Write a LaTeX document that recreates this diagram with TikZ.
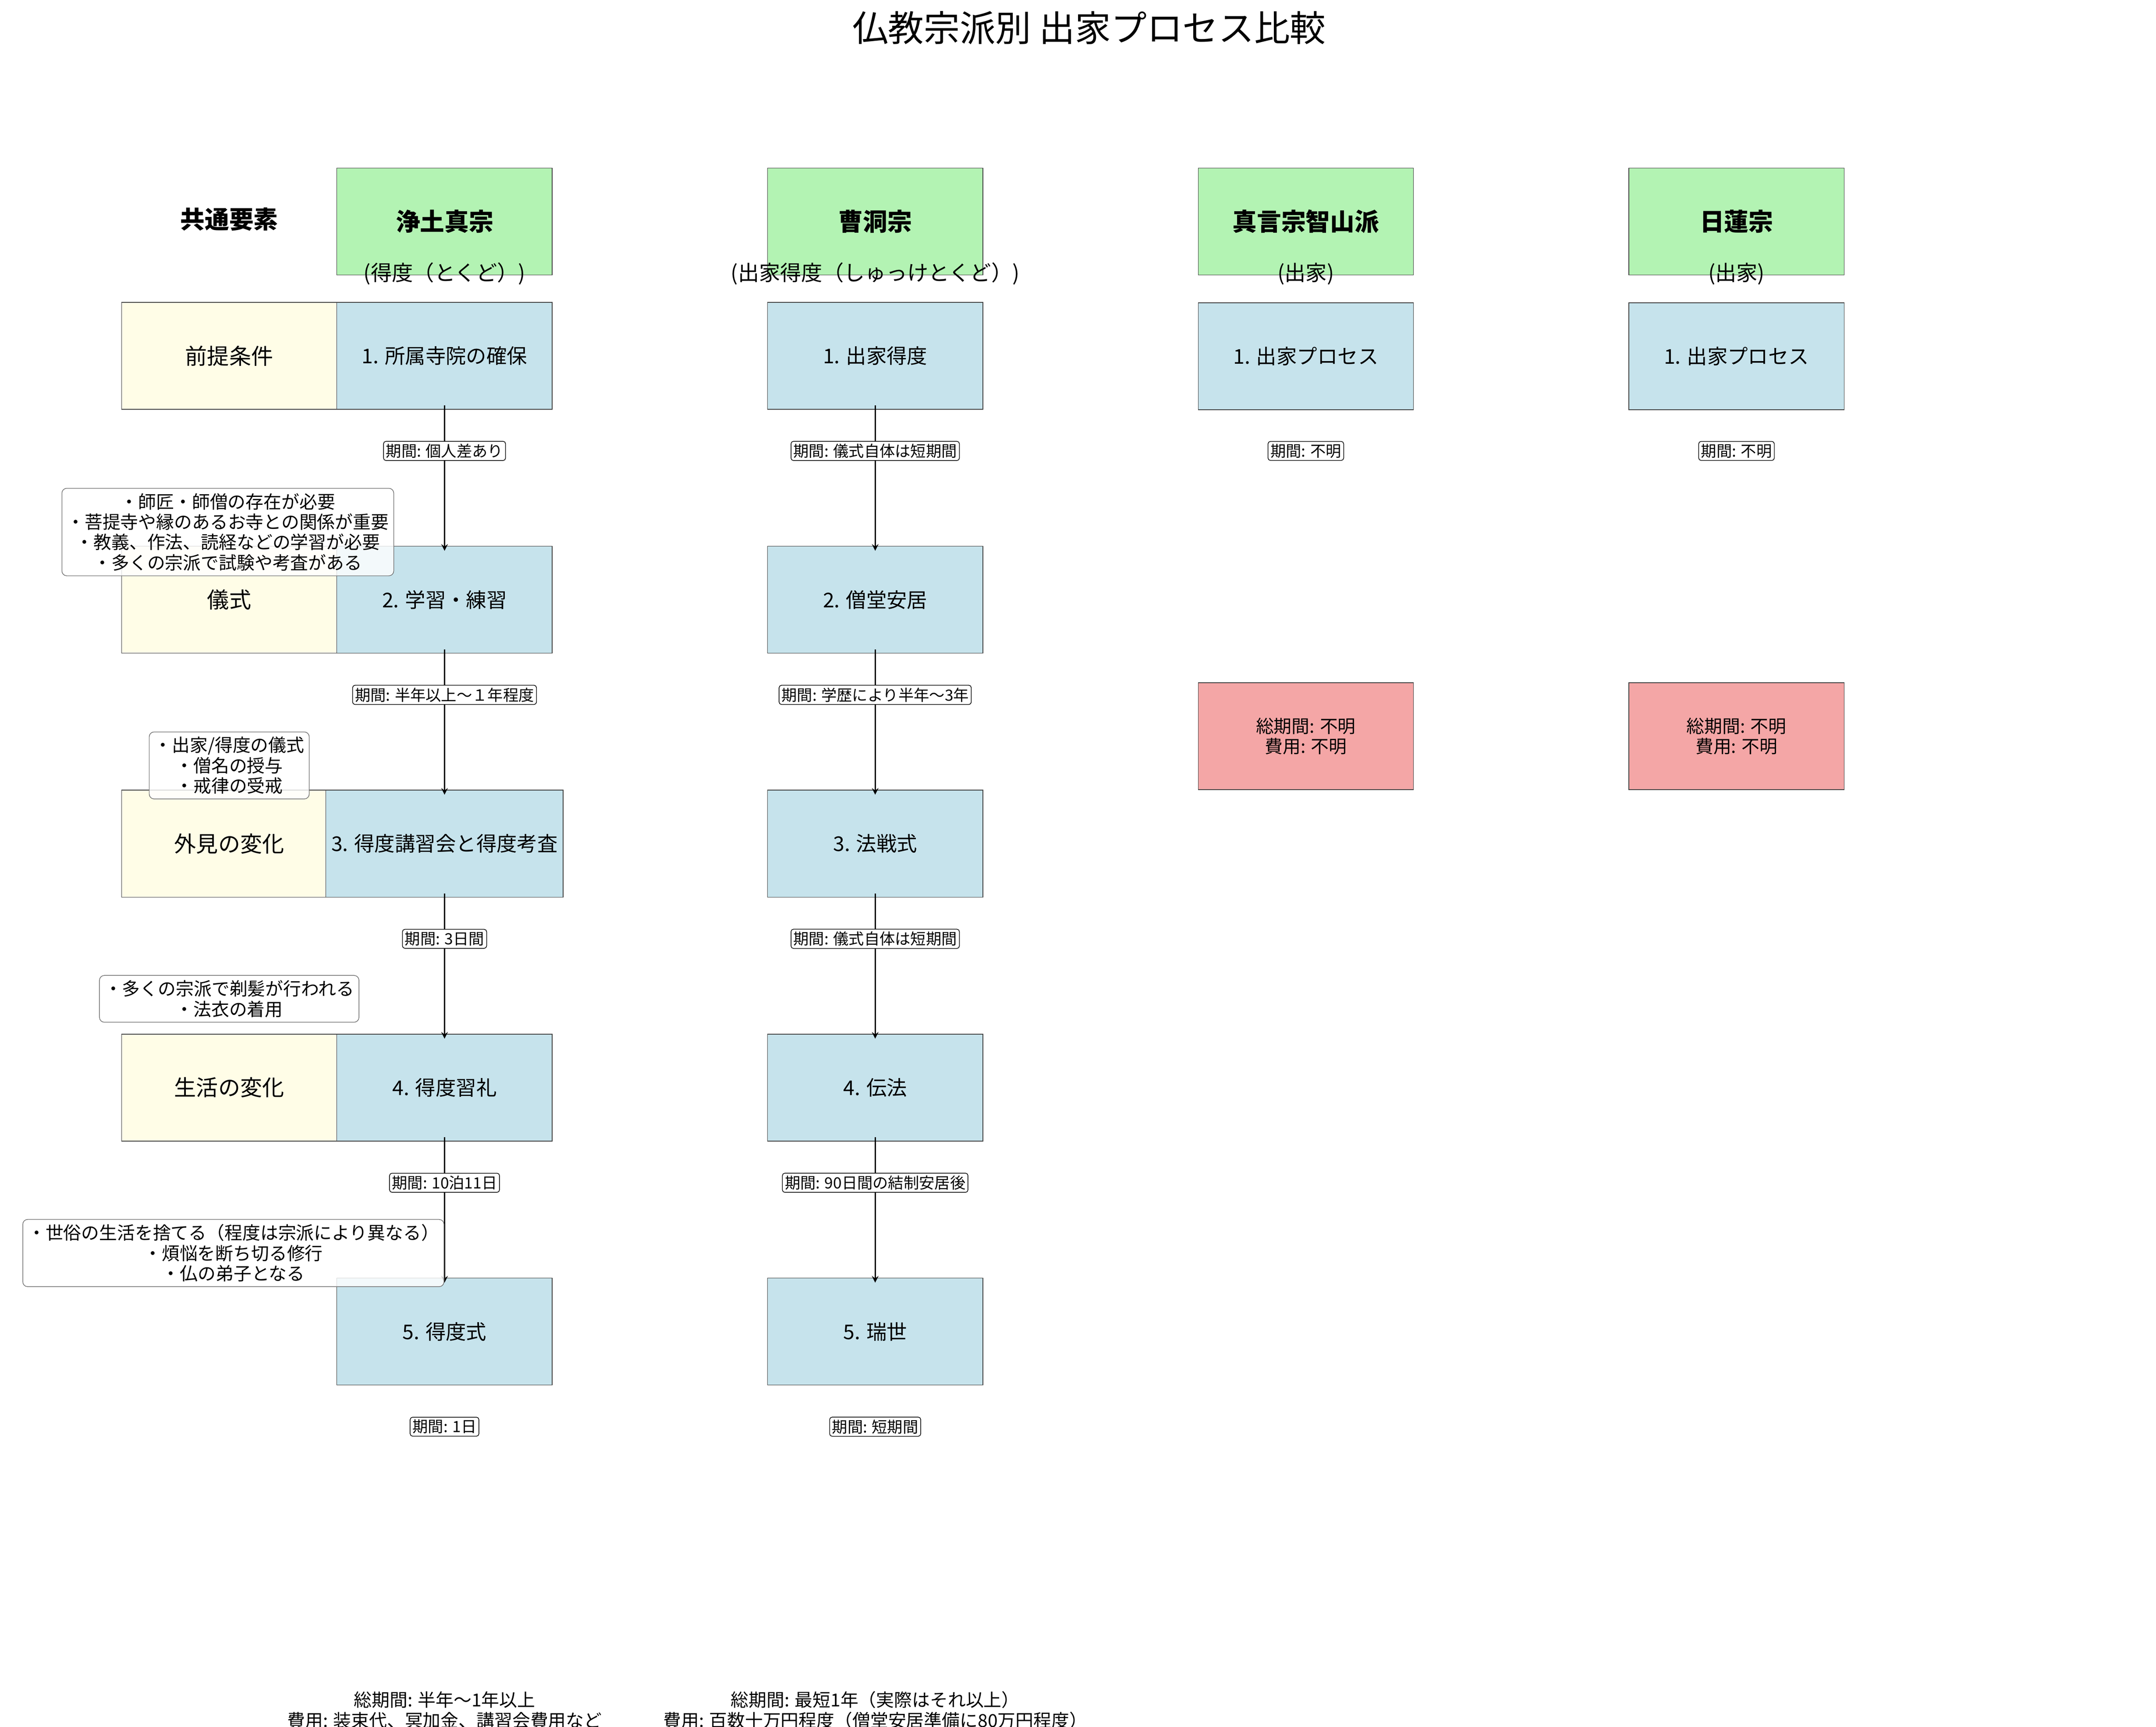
\documentclass[tikz,border=0pt]{standalone}
\usepackage{fontspec}
\setmainfont{Noto Sans CJK JP}
\usetikzlibrary{positioning}
\definecolor{headgreen}{HTML}{B3F3B3}
\definecolor{stepblue}{HTML}{C6E3EC}
\definecolor{commonyellow}{HTML}{FFFDE7}
\definecolor{totalred}{HTML}{F4A6A6}
\begin{document}
\begin{tikzpicture}[x=0.03cm,y=-0.03cm]

\tikzset{
  head/.style={draw=black!75, fill=headgreen, minimum width=4.65cm, minimum height=2.31cm, font=\fontsize{15}{18}\selectfont\bfseries},
  stepbox/.style={draw=black!75, fill=stepblue, minimum width=4.65cm, minimum height=2.31cm, font=\fontsize{12.5}{15}\selectfont},
  common/.style={draw=black!75, fill=commonyellow, minimum width=4.65cm, minimum height=2.31cm, font=\fontsize{13.5}{16}\selectfont},
  total/.style={draw=black!75, fill=totalred, minimum width=4.65cm, minimum height=2.31cm, align=center, font=\fontsize{11}{12.5}\selectfont},
  period/.style={draw, rounded corners=1.5pt, fill=white, inner sep=1.5pt, font=\fontsize{9.5}{11}\selectfont},
  note/.style={draw=black!55, rounded corners=3pt, fill=white, fill opacity=0.8, text opacity=1, align=center, inner sep=3pt, font=\fontsize{11}{12.5}\selectfont},
  sub/.style={font=\fontsize{13}{15}\selectfont},
  line/.style={draw, -stealth, thick}
}

\useasboundingbox (0,0) rectangle (1552,1243);

\node[font=\fontsize{22}{26}\selectfont] (title) at (784,20) {仏教宗派別 出家プロセス比較};

% headers
\node[font=\fontsize{15}{18}\selectfont\bfseries] (kyotsu) at (165,158) {共通要素};
\node[head] (jodo) at (320,159.5) {浄土真宗};
\node[head] (soto) at (630,159.5) {曹洞宗};
\node[head] (shingon) at (940,159.5) {真言宗智山派};
\node[head] (nichiren) at (1250,159.5) {日蓮宗};
\node[sub] at (320,197) {(得度（とくど）)};
\node[sub] at (630,197) {(出家得度（しゅっけとくど）)};
\node[sub] at (940,197) {(出家)};
\node[sub] at (1250,197) {(出家)};

% common elements
\foreach \lab [count=\i] in {前提条件,儀式,外見の変化,生活の変化}
  \node[common] (c\i) at (165,80.5+175.6*\i) {\lab};

% jodo shinshu
\foreach \lab [count=\i] in {1. 所属寺院の確保,2. 学習・練習,3. 得度講習会と得度考査,4. 得度習礼,5. 得度式}
  \node[stepbox] (j\i) at (320,80.5+175.6*\i) {\lab};
% soto
\foreach \lab [count=\i] in {1. 出家得度,2. 僧堂安居,3. 法戦式,4. 伝法,5. 瑞世}
  \node[stepbox] (s\i) at (630,80.5+175.6*\i) {\lab};

%arrows
\foreach \i/\n in {1/2,2/3,3/4,4/5} {
  \path[line] (j\i.south) ++(0,-3) coordinate (ja\i) (ja\i) -- ([yshift=-3]j\n.north);
  \path[line] (s\i.south) ++(0,-3) coordinate (sa\i) (sa\i) -- ([yshift=-3]s\n.north);
}

% periods
\foreach \txt [count=\i] in {個人差あり,半年以上〜１年程度,3日間,10泊11日,1日}
  \node[period] (jp\i) at (320,149+175.6*\i) {期間: \txt};
\foreach \txt [count=\i] in {儀式自体は短期間,学歴により半年〜3年,儀式自体は短期間,90日間の結制安居後,短期間}
  \node[period] (sp\i) at (630,149+175.6*\i) {期間: \txt};

% shingon, nichiren
\node[stepbox] (sh1) at (940,256.5) {1. 出家プロセス};
\node[stepbox] (n1) at (1250,256.5) {1. 出家プロセス};
\node[period] (shp1) at (940,324.6) {期間: 不明};
\node[period] (np1) at (1250,324.6) {期間: 不明};
\node[total] (sht) at (940,530) {総期間: 不明\\費用: 不明};
\node[total] (nt) at (1250,530) {総期間: 不明\\費用: 不明};

% notes
\node[note] (n-pre) at (164,383) {・師匠・師僧の存在が必要\\・菩提寺や縁のあるお寺との関係が重要\\・教義、作法、読経などの学習が必要\\・多くの宗派で試験や考査がある};
\node[note] (n-cer) at (165,551) {・出家/得度の儀式\\・僧名の授与\\・戒律の受戒};
\node[note] (n-look) at (165,719) {・多くの宗派で剃髪が行われる\\・法衣の着用};
\node[note] (n-life) at (168,902) {・世俗の生活を捨てる（程度は宗派により異なる）\\・煩悩を断ち切る修行\\・仏の弟子となる};

% totals
\node[align=center, font=\fontsize{11}{12.5}\selectfont] (jt) at (320,1231) {総期間: 半年〜1年以上\\費用: 装束代、冥加金、講習会費用など};
\node[align=center, font=\fontsize{11}{12.5}\selectfont] (st) at (630,1231) {総期間: 最短1年（実際はそれ以上）\\費用: 百数十万円程度（僧堂安居準備に80万円程度）};
\end{tikzpicture}
\end{document}
